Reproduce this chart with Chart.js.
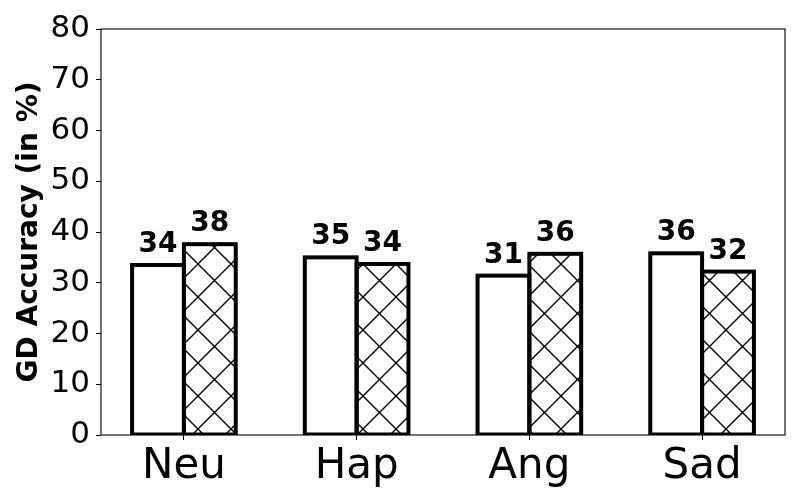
<!DOCTYPE html>
<html>
<head>
<meta charset="utf-8">
<script src="https://cdn.jsdelivr.net/npm/chart.js@4"></script>
<style>
  html, body { margin: 0; padding: 0; background: #ffffff; }
  #wrap { width: 800px; height: 500px; }
</style>
</head>
<body>
<div id="wrap"><canvas id="c" width="800" height="500"></canvas></div>
<script>
// ---- data ----
const categories = ['Neu', 'Hap', 'Ang', 'Sad'];
const plainValues = [33.5, 35.0, 31.4, 35.8];
const hatchedValues = [37.6, 33.7, 35.7, 32.2];
const yTicks = [0, 10, 20, 30, 40, 50, 60, 70, 80];
const yTitle = 'GD Accuracy (in %)';

// ---- hatch pattern ----
function makeHatch(size, lw) {
  const pc = document.createElement('canvas');
  pc.width = size; pc.height = size;
  const p = pc.getContext('2d');
  p.fillStyle = '#ffffff';
  p.fillRect(0, 0, size, size);
  p.strokeStyle = '#000000';
  p.lineWidth = lw;
  p.beginPath();
  for (let k = -1; k <= 1; k++) {
    p.moveTo(k * size - 2, -2); p.lineTo(k * size + size + 2, size + 2);
    p.moveTo(k * size + size + 2, -2); p.lineTo(k * size - 2, size + 2);
  }
  p.stroke();
  return document.createElement('canvas').getContext('2d').createPattern(pc, 'repeat');
}
const hatch = makeHatch(33, 1.4);

const FONT = 'DejaVu Sans';

// frame + bar outlines + value labels
const decor = {
  id: 'decor',
  afterDatasetsDraw(chart) {
    const ctx = chart.ctx;
    const a = chart.chartArea;
    ctx.save();
    ctx.beginPath();
    ctx.rect(a.left, a.top, a.right - a.left, a.bottom - a.top);
    ctx.clip();
    ctx.strokeStyle = '#000';
    ctx.lineWidth = 4;
    chart.data.datasets.forEach((ds, di) => {
      chart.getDatasetMeta(di).data.forEach(el => {
        const p = el.getProps(['x', 'y', 'base', 'width'], true);
        ctx.strokeRect(p.x - p.width / 2, p.y, p.width, p.base - p.y);
      });
    });
    ctx.restore();
    ctx.save();
    ctx.strokeStyle = '#000';
    ctx.lineWidth = 1.1;
    ctx.strokeRect(a.left, a.top, a.right - a.left, a.bottom - a.top);
    ctx.fillStyle = '#000';
    ctx.font = 'bold 28px "' + FONT + '"';
    ctx.textAlign = 'center';
    ctx.textBaseline = 'alphabetic';
    chart.data.datasets.forEach((ds, di) => {
      chart.getDatasetMeta(di).data.forEach((el, i) => {
        const p = el.getProps(['x', 'y'], true);
        const v = ds.data[i].y;
        ctx.fillText(String(Math.round(v)), p.x, p.y - 13);
      });
    });
    ctx.restore();
  }
};

new Chart(document.getElementById('c'), {
  type: 'bar',
  data: {
    datasets: [
      {
        data: plainValues.map((v, i) => ({ x: i, y: v })),
        backgroundColor: '#ffffff',
        borderWidth: 0
      },
      {
        data: hatchedValues.map((v, i) => ({ x: i, y: v })),
        backgroundColor: hatch,
        borderWidth: 0
      }
    ]
  },
  options: {
    responsive: false,
    animation: false,
    events: [],
    layout: { padding: { left: 0, right: 15, top: 29, bottom: 0 } },
    datasets: { bar: { categoryPercentage: 0.6, barPercentage: 1.0 } },
    plugins: { legend: { display: false }, tooltip: { enabled: false } },
    scales: {
      x: {
        type: 'linear',
        min: -0.48,
        max: 3.48,
        offset: false,
        afterBuildTicks(scale) {
          scale.ticks = categories.map((c, i) => ({ value: i }));
        },
        afterFit(scale) { scale.height = 65; },
        border: { display: false },
        grid: { offset: false, drawOnChartArea: false, drawTicks: true, tickLength: 5, color: '#000', lineWidth: 1 },
        ticks: {
          color: '#000',
          padding: 2,
          maxRotation: 0,
          autoSkip: false,
          font: { family: FONT, size: 42 },
          callback: (v) => categories[Math.round(v)]
        }
      },
      y: {
        min: 0,
        max: 80,
        afterBuildTicks(scale) {
          scale.ticks = yTicks.map(v => ({ value: v }));
        },
        afterFit(scale) { scale.width = 101; },
        border: { display: false },
        grid: { drawOnChartArea: false, drawTicks: true, tickLength: 5, color: '#000', lineWidth: 1 },
        ticks: {
          color: '#000',
          padding: 6,
          font: { family: FONT, size: 31 },
          callback: (v) => String(v)
        },
        title: {
          display: true,
          text: yTitle,
          color: '#000',
          padding: { top: 13, bottom: 0 },
          font: { family: FONT, size: 28, weight: 'bold' }
        }
      }
    }
  },
  plugins: [decor]
});
</script>
</body>
</html>
